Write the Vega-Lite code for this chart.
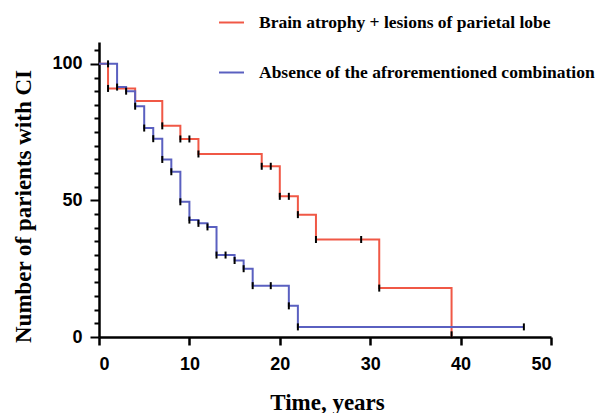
{
  "$schema": "https://vega.github.io/schema/vega-lite/v6.json",
  "autosize": {"type": "none"},
  "padding": {"left": 99, "top": 42, "right": 48, "bottom": 76},
  "width": 452,
  "height": 295,
  "background": "white",
  "config": {"view": {"stroke": null}},
  "datasets": {
    "steps": [
      {"g": "Brain atrophy + lesions of parietal lobe", "t": 0, "v": 100},
      {"g": "Brain atrophy + lesions of parietal lobe", "t": 1, "v": 91},
      {"g": "Brain atrophy + lesions of parietal lobe", "t": 4, "v": 86.4},
      {"g": "Brain atrophy + lesions of parietal lobe", "t": 7, "v": 77.3},
      {"g": "Brain atrophy + lesions of parietal lobe", "t": 9, "v": 72.5},
      {"g": "Brain atrophy + lesions of parietal lobe", "t": 11, "v": 67},
      {"g": "Brain atrophy + lesions of parietal lobe", "t": 18, "v": 62.5},
      {"g": "Brain atrophy + lesions of parietal lobe", "t": 20, "v": 51.5},
      {"g": "Brain atrophy + lesions of parietal lobe", "t": 22, "v": 44.8},
      {"g": "Brain atrophy + lesions of parietal lobe", "t": 24, "v": 35.7},
      {"g": "Brain atrophy + lesions of parietal lobe", "t": 31, "v": 17.9},
      {"g": "Brain atrophy + lesions of parietal lobe", "t": 39, "v": 0},
      {"g": "Absence of the afrorementioned combination", "t": 0, "v": 100},
      {"g": "Absence of the afrorementioned combination", "t": 2, "v": 91.5},
      {"g": "Absence of the afrorementioned combination", "t": 3, "v": 90},
      {"g": "Absence of the afrorementioned combination", "t": 4, "v": 84.5},
      {"g": "Absence of the afrorementioned combination", "t": 5, "v": 76.5},
      {"g": "Absence of the afrorementioned combination", "t": 6, "v": 72.6},
      {"g": "Absence of the afrorementioned combination", "t": 7, "v": 65},
      {"g": "Absence of the afrorementioned combination", "t": 8, "v": 60.5},
      {"g": "Absence of the afrorementioned combination", "t": 9, "v": 49.5},
      {"g": "Absence of the afrorementioned combination", "t": 10, "v": 42.8},
      {"g": "Absence of the afrorementioned combination", "t": 11, "v": 41.6},
      {"g": "Absence of the afrorementioned combination", "t": 12, "v": 40.3},
      {"g": "Absence of the afrorementioned combination", "t": 13, "v": 30},
      {"g": "Absence of the afrorementioned combination", "t": 15, "v": 28},
      {"g": "Absence of the afrorementioned combination", "t": 16, "v": 25},
      {"g": "Absence of the afrorementioned combination", "t": 17, "v": 18.8},
      {"g": "Absence of the afrorementioned combination", "t": 21, "v": 11.4},
      {"g": "Absence of the afrorementioned combination", "t": 22, "v": 3.7},
      {"g": "Absence of the afrorementioned combination", "t": 47, "v": 3.7}
    ],
    "censor": [
      {"g": "red", "t": 1, "v": 91},
      {"g": "red", "t": 7, "v": 77.3},
      {"g": "red", "t": 9, "v": 72.5},
      {"g": "red", "t": 10, "v": 72.5},
      {"g": "red", "t": 11, "v": 67},
      {"g": "red", "t": 18, "v": 62.5},
      {"g": "red", "t": 19, "v": 62.5},
      {"g": "red", "t": 20, "v": 51.5},
      {"g": "red", "t": 21, "v": 51.5},
      {"g": "red", "t": 22, "v": 44.8},
      {"g": "red", "t": 24, "v": 35.7},
      {"g": "red", "t": 29, "v": 35.7},
      {"g": "red", "t": 31, "v": 17.9},
      {"g": "red", "t": 39, "v": 0.8},
      {"g": "blue", "t": 1, "v": 100},
      {"g": "blue", "t": 2, "v": 91.5},
      {"g": "blue", "t": 3, "v": 90},
      {"g": "blue", "t": 4, "v": 84.5},
      {"g": "blue", "t": 5, "v": 76.5},
      {"g": "blue", "t": 6, "v": 72.6},
      {"g": "blue", "t": 7, "v": 65},
      {"g": "blue", "t": 8, "v": 60.5},
      {"g": "blue", "t": 9, "v": 49.5},
      {"g": "blue", "t": 10, "v": 42.8},
      {"g": "blue", "t": 11, "v": 41.6},
      {"g": "blue", "t": 12, "v": 40.3},
      {"g": "blue", "t": 13, "v": 30},
      {"g": "blue", "t": 14, "v": 30},
      {"g": "blue", "t": 15, "v": 28},
      {"g": "blue", "t": 16, "v": 25},
      {"g": "blue", "t": 17, "v": 18.8},
      {"g": "blue", "t": 19, "v": 18.8},
      {"g": "blue", "t": 21, "v": 11.4},
      {"g": "blue", "t": 22, "v": 3.7},
      {"g": "blue", "t": 47, "v": 3.7}
    ]
  },
  "encoding": {
    "x": {
      "field": "t", "type": "quantitative",
      "scale": {"domain": [0, 50], "nice": false, "zero": false},
      "axis": {
        "values": [0, 10, 20, 30, 40, 50],
        "title": "Time, years",
        "grid": false,
        "domainColor": "black", "domainWidth": 2.5,
        "tickColor": "black", "tickWidth": 2.5, "tickSize": 8,
        "labelFont": "Liberation Sans", "labelFontWeight": "bold", "labelFontSize": 18, "labelColor": "black",
        "labelPadding": 10,
        "titleFont": "Liberation Serif", "titleFontWeight": "bold", "titleFontSize": 23, "titleColor": "black",
        "titleBaseline": "alphabetic", "titleY": 72, "titleX": 228
      }
    },
    "y": {
      "field": "v", "type": "quantitative",
      "scale": {"domain": [0, 108], "nice": false},
      "axis": {
        "values": [0, 5, 10, 15, 20, 25, 30, 35, 40, 45, 50, 55, 60, 65, 70, 75, 80, 85, 90, 95, 100, 105],
        "labelExpr": "datum.value % 50 === 0 ? datum.label : ''",
        "title": "Number of parients with CI",
        "grid": false,
        "domainColor": "black", "domainWidth": 2.5,
        "tickColor": "black", "tickWidth": 2,
        "tickSize": {"condition": {"test": "datum.value % 50 === 0", "value": 9}, "value": 5},
        "labelFont": "Liberation Sans", "labelFontWeight": "bold", "labelFontSize": 18, "labelColor": "black",
        "labelPadding": 8,
        "titleFont": "Liberation Serif", "titleFontWeight": "bold", "titleFontSize": 23, "titleColor": "black",
        "titleBaseline": "middle", "titleAlign": "center", "titleX": -76, "titleY": 164, "titleAngle": -90
      }
    }
  },
  "layer": [
    {
      "data": {"name": "steps"},
      "mark": {"type": "line", "interpolate": "step-after", "strokeWidth": 2},
      "encoding": {
        "color": {
          "field": "g", "type": "nominal",
          "scale": {
            "domain": ["Brain atrophy + lesions of parietal lobe", "Absence of the afrorementioned combination"],
            "range": ["#f05846", "#5a60c0"]
          },
          "legend": {
            "title": null,
            "orient": "none",
            "legendX": 119,
            "legendY": -33,
            "symbolType": "stroke",
            "symbolSize": 625,
            "symbolStrokeWidth": 2,
            "labelFont": "Liberation Serif",
            "labelFontWeight": "bold",
            "labelFontSize": 17.5,
            "labelColor": "black",
            "labelOffset": 14,
            "labelLimit": 400,
            "rowPadding": 28
          }
        }
      }
    },
    {
      "data": {"name": "censor"},
      "mark": {"type": "tick", "orient": "vertical", "color": "black", "thickness": 2, "size": 7, "opacity": 1},
      "encoding": {}
    }
  ]
}
